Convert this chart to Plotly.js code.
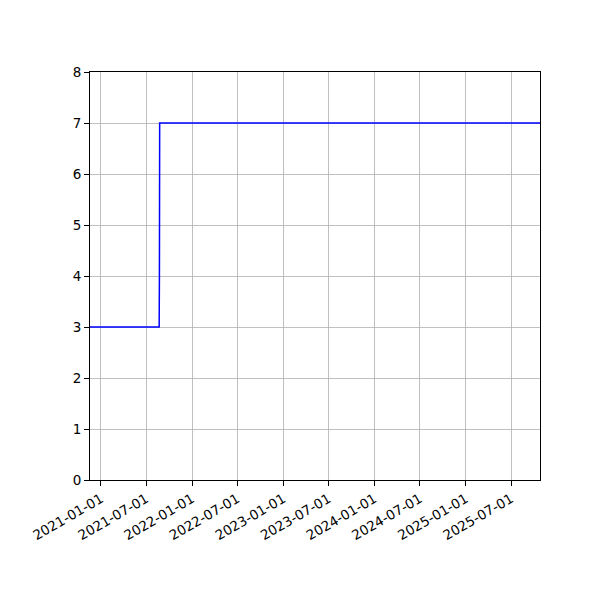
<!DOCTYPE html>
<html>
<head>
    <script src="https://cdn.plot.ly/plotly-3.0.1.min.js"></script>
    <style>
        body { margin: 0; background: white; }
        #plot { width: 600px; height: 600px; }
    </style>
</head>
<body>
    <div id="plot"></div>
    <script>
        const dates = ['2020-11-18', '2021-08-22', '2021-08-23', '2021-08-24', '2025-10-25'];
        const values = [3, 3, 4, 7, 7];
        const tickDates = ['2021-01-01', '2021-07-01', '2022-01-01', '2022-07-01', '2023-01-01',
                           '2023-07-01', '2024-01-01', '2024-07-01', '2025-01-01', '2025-07-01'];

        const data = [{
            x: dates,
            y: values,
            type: 'scatter',
            mode: 'lines',
            line: { color: '#0000ff', width: 1.5 },
            showlegend: false
        }];

        const axisCommon = {
            showgrid: true,
            gridcolor: '#b0b0b0',
            gridwidth: 0.8,
            zeroline: false,
            showline: true,
            linecolor: 'black',
            linewidth: 1,
            mirror: true,
            ticks: 'outside',
            ticklen: 5,
            tickwidth: 1,
            tickcolor: 'black',
            tickfont: { family: 'DejaVu Sans', size: 13.5, color: 'black' }
        };

        const layout = {
            width: 600,
            height: 600,
            margin: { l: 90, r: 60, t: 72, b: 120 },
            paper_bgcolor: 'white',
            plot_bgcolor: 'white',
            xaxis: Object.assign({}, axisCommon, {
                type: 'date',
                range: ['2020-11-18', '2025-10-25'],
                tickmode: 'array',
                tickvals: tickDates,
                ticktext: tickDates,
                tickangle: -30
            }),
            yaxis: Object.assign({}, axisCommon, {
                range: [0, 8],
                dtick: 1
            })
        };

        Plotly.newPlot('plot', data, layout, { displayModeBar: false, staticPlot: true });
    </script>
</body>
</html>
